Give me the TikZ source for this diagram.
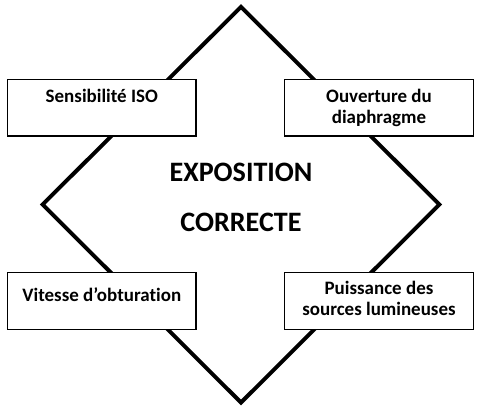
\documentclass[tikz,border=0pt]{standalone}
\usepackage{fontspec}
\setmainfont{Carlito}[Ligatures=NoCommon]
\usepackage{tikz}
\usetikzlibrary{positioning}

\begin{document}
\begin{tikzpicture}[
    factor/.style={draw, line width=1.1pt, fill=white, minimum width=4.72cm, minimum height=1.42cm},
    factortext/.style={align=center, font=\bfseries\fontsize{13.5}{15.6}\selectfont},
    frame/.style={line width=2.8pt, miter limit=10}
]
    \useasboundingbox (-6.025,-5.1875) rectangle (6.05,5.1125);

    % Diamond
    \draw[frame] (0,4.94) -- (4.96,0) -- (0,-4.95) -- (-4.96,0) -- cycle;

    % Central text
    \node[font=\bfseries\fontsize{20}{36}\selectfont, align=center] (expo) at (0,0.18) {EXPOSITION\\CORRECTE};

    % The four factors
    \node[factor] (iso) at (-3.48,2.42) {};
    \node[factor] (ouverture) at (3.45,2.42) {};
    \node[factor] (vitesse) at (-3.48,-2.41) {};
    \node[factor] (sources) at (3.45,-2.41) {};

    \node[factortext, below=0.13cm of iso.north] (isotext) {Sensibilité ISO};
    \node[factortext, below=0.13cm of ouverture.north] (ouverturetext) {Ouverture du\\diaphragme};
    \node[factortext, below=0.28cm of vitesse.north] (vitessetext) {Vitesse d’obturation};
    \node[factortext, below=0.1cm of sources.north] (sourcestext) {Puissance des\\sources lumineuses};

\end{tikzpicture}
\end{document}
